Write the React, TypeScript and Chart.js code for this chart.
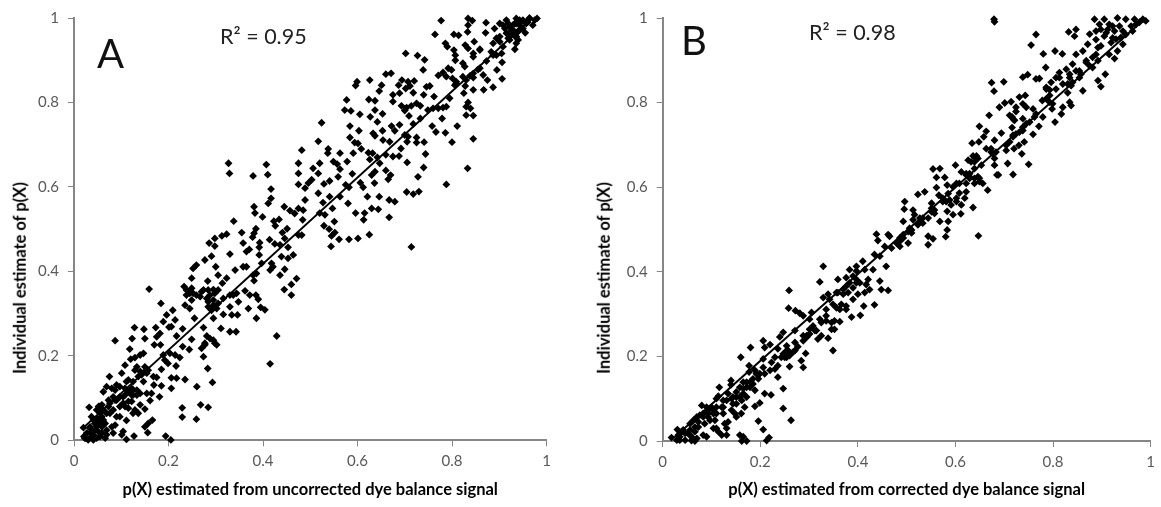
import React, { useEffect, useRef } from "react";
import { Chart, registerables } from "chart.js";

Chart.register(...registerables);

const xTitleA = "p(X) estimated from uncorrected dye balance signal";
const xTitleB = "p(X) estimated from corrected dye balance signal";
const yTitle = "Individual estimate of p(X)";

const trendA = [[0.02, 0.03], [0.97, 1]];
const trendB = [[0.02, 0.005], [0.99, 1]];

const pointsA: number[][] = [
[.327,.656],[.329,.632],[.379,.626],[.407,.653],[.410,.629],[.475,.656],[.475,.632],[.475,.606],[.417,.595],[.417,.573],[.411,.561],[.381,.553],[.383,.538],[.399,.529],[.445,.553],[.457,.544],[.467,.537],[.475,.549],[.338,.519],[.423,.519],[.434,.523],[.426,.508],[.355,.492],[.385,.501],[.381,.490],[.378,.481],[.323,.488],[.313,.484],[.298,.478],[.286,.467],[.298,.460],[.358,.467],[.393,.468],[.392,.457],[.451,.501],[.441,.492],[.446,.478],[.475,.486],[.414,.475],[.425,.465],[.436,.463],[.453,.457],[.371,.452],
[.777,.994],[.834,.999],[.843,.994],[.834,.983],[.833,.967],[.872,.989],[.871,.965],[.764,.961],[.804,.961],[.814,.959],[.786,.940],[.790,.932],[.804,.924],[.807,.912],[.807,.900],[.828,.936],[.834,.928],[.847,.944],[.859,.924],[.845,.908],
[.702,.916],[.727,.911],[.742,.901],[.739,.877],[.660,.867],[.671,.869],[.626,.853],[.599,.849],[.596,.840],[.651,.841],[.646,.827],[.694,.853],[.687,.841],[.707,.849],[.720,.851],[.711,.839],[.702,.833],[.718,.823],[.689,.822],[.675,.818],[.740,.818],[.746,.837],[.753,.839],[.577,.806],[.624,.807],[.637,.804],[.675,.802],[.762,.814],[.771,.864],[.781,.871],[.792,.881],[.799,.877],[.788,.861],[.801,.857],[.809,.849],[.806,.841],[.823,.893],[.827,.885],[.838,.863],[.845,.859],[.830,.853],[.828,.839],[.855,.878],[.866,.865],[.875,.853],[.895,.877],[.906,.895],[.906,.856],[.887,.836],[.867,.830],[.845,.830],[.825,.822],[.795,.810],[.788,.790],[.781,.788],[.771,.786],[.760,.786],[.749,.782],[.733,.792],[.725,.798],[.714,.792],[.704,.788],[.693,.792],[.700,.781],[.709,.768],[.733,.762],[.779,.762],[.834,.800],[.830,.790],[.839,.786],[.830,.770],[.845,.769],[.811,.744],[.758,.744],[.766,.730],[.786,.728],[.800,.706],[.845,.714],[.833,.644],[.788,.606],
[.573,.782],[.586,.780],[.605,.772],[.637,.782],[.627,.766],[.653,.773],[.642,.754],[.584,.744],[.603,.733],[.633,.727],[.653,.733],[.672,.744],[.679,.733],[.689,.747],[.718,.749],[.524,.752],[.584,.717],[.594,.705],[.601,.703],[.637,.721],[.654,.711],[.668,.707],[.700,.723],[.707,.719],[.705,.707],[.725,.717],[.725,.705],[.741,.706],[.517,.708],[.538,.690],[.537,.680],[.563,.680],[.591,.680],[.608,.690],[.623,.681],[.632,.680],[.660,.676],[.692,.691],[.675,.672],[.688,.673],[.744,.678],[.482,.687],[.549,.660],[.557,.654],[.578,.660],[.520,.656],[.506,.644],[.517,.632],[.563,.642],[.559,.624],[.647,.656],[.626,.665],[.642,.670],[.705,.658],[.740,.646],[.660,.639],[.670,.628],[.665,.618],[.637,.636],[.630,.628],[.589,.631],[.606,.610],[.612,.599],[.636,.609],[.728,.624],[.575,.605],[.582,.599],[.563,.577],[.541,.577],[.541,.614],[.529,.607],[.503,.617],[.496,.609],[.489,.597],[.517,.585],[.527,.563],[.580,.561],[.621,.577],[.646,.577],[.667,.569],[.679,.565],[.704,.588],[.718,.583],[.730,.589],[.547,.549],[.630,.549],[.644,.547],[.615,.538],[.596,.538],[.613,.522],[.667,.528],[.551,.518],[.529,.508],[.540,.500],[.552,.492],[.545,.484],[.561,.476],[.582,.476],[.601,.478],[.625,.487],[.544,.459],[.714,.458],[.531,.534],[.520,.538],[.482,.486],[.485,.545],[.484,.522],[.489,.569],
[.901,.987],[.936,.999],[.964,1],[.980,.999],[.943,.983],[.929,.972],[.915,.964],[.901,.956],[.887,.940],[.908,.932],[.933,.926],[.940,.948],[.922,.948],[.957,.987],[.971,.983],[.919,.987],[.890,.975],[.950,.995],[.933,.987],[.940,.968],[.912,.975],[.926,.960],[.946,.975],[.955,.965],[.935,.955],[.925,.970],[.915,.995],[.945,.990],[.960,.990],[.887,.912],[.873,.898],[.859,.881],[.845,.916],[.859,.926],[.883,.920],[.894,.912],[.905,.916],[.823,.861],[.845,.869],[.809,.845],
[.908,.983],[.922,.979],[.936,.987],[.943,.972],[.950,.975],[.929,.964],[.936,.956],[.919,.952],[.901,.944],[.894,.952],[.943,.995],[.961,.995],[.975,.995],[.936,.940],[.929,.983],
[.159,.358],[.184,.324],[.087,.236],[.128,.267],[.123,.241],[.148,.263],[.150,.241],[.173,.267],[.175,.245],[.182,.253],[.170,.226],[.183,.226],[.118,.216],[.147,.206],[.140,.202],[.129,.196],[.120,.192],[.108,.178],[.075,.151],[.189,.202],[.192,.190],[.199,.182],[.216,.176],[.185,.168],[.206,.148],[.217,.147],[.235,.144],[.206,.123],[.185,.129],[.260,.127],[.293,.137],[.283,.170],[.274,.198],[.229,.077],[.268,.084],[.284,.078],[.229,.055],[.259,.050],[.194,.010],[.205,.001],[.166,.048],[.157,.040],[.150,.032],[.156,.018],[.127,.010],[.111,.002],[.104,.021],[.101,.013],[.032,.078],
[.196,.297],[.209,.308],[.189,.281],[.214,.285],[.206,.269],[.201,.268],[.230,.264],[.217,.247],[.249,.239],[.230,.222],[.244,.215],[.224,.196],[.214,.202],[.203,.206],[.249,.384],[.233,.364],[.252,.407],[.259,.415],[.277,.427],[.291,.436],[.330,.441],[.365,.447],[.392,.439],[.300,.411],[.305,.391],[.323,.384],[.314,.372],[.283,.377],[.341,.403],[.358,.411],[.365,.411],[.379,.391],[.381,.378],[.386,.395],[.249,.360],[.252,.348],[.238,.344],[.249,.332],[.235,.320],[.245,.312],[.255,.289],[.274,.267],[.281,.247],[.295,.237],[.302,.226],[.277,.226],[.270,.218],[.295,.289],[.311,.265],[.330,.257],[.343,.257],[.316,.298],[.334,.297],[.346,.297],[.330,.316],[.369,.312],[.386,.289],[.395,.315],[.404,.309],[.348,.328],[.362,.354],[.372,.344],[.385,.344],[.390,.334],[.316,.336],[.330,.344],[.344,.348],[.270,.352],[.284,.356],[.295,.357],[.305,.356],[.267,.340],[.281,.336],[.295,.332],[.284,.316],[.302,.312],[.291,.308],[.429,.247],[.415,.181],[.445,.357],[.460,.344],[.460,.369],[.471,.383],[.415,.403],[.421,.411],[.436,.391],[.446,.405],[.397,.419],[.418,.419],[.439,.435],[.453,.431],[.464,.439],
[.238,.356],[.245,.348],[.259,.344],[.274,.356],[.288,.344],[.298,.348],[.284,.328],[.295,.320],[.305,.324],[.277,.230],[.288,.241],[.298,.230],[.337,.344],
[.133,.174],[.140,.163],[.154,.159],[.150,.174],[.168,.151],[.175,.149],[.169,.131],[.154,.111],[.164,.111],[.181,.103],[.161,.094],[.150,.074],[.140,.084],[.125,.107],[.133,.119],[.111,.139],[.122,.123],[.090,.131],[.080,.123],[.062,.115],[.069,.127],[.101,.159],[.108,.107],[.115,.092],[.125,.064],[.111,.047],[.097,.080],[.083,.072],[.090,.056],[.080,.032],[.062,.048],[.073,.095],[.059,.084],[.048,.072],[.037,.056],[.055,.064],[.069,.064],[.044,.040],[.059,.032],[.034,.032],[.020,.030],[.027,.017],[.021,.009],[.024,.005],[.041,.013],[.052,.020],[.066,.005],[.055,.009],[.030,.001],[.041,.001],[.069,.024],[.083,.017],[.048,.052],[.052,.080],[.087,.095],[.108,.080],[.136,.064],[.097,.103],[.125,.139],[.147,.139],
[.034,.028],[.041,.048],[.048,.032],[.055,.080],[.062,.072],[.066,.040],[.073,.080],[.076,.064],[.059,.056],[.052,.048],[.044,.024],[.037,.009],[.023,.005],[.048,.005],[.059,.017],[.069,.013],[.034,.017],[.055,.040],[.076,.088],[.090,.095],[.104,.103],[.115,.115],[.108,.123],[.122,.107],[.133,.107],[.140,.111],[.136,.151],[.129,.166],[.143,.155],[.150,.163],[.157,.166],[.125,.119],[.115,.143],[.097,.127],[.087,.119],[.083,.103],[.104,.088],[.122,.092],[.115,.076],[.129,.072],[.097,.056],[.087,.036],
];

const pointsB: number[][] = [
[.679,.997],[.680,.991],[.765,.961],[.755,.936],[.832,.967],[.847,.973],[.844,.957],[.875,.962],[.780,.915],[.804,.922],[.819,.915],[.785,.883],[.674,.847],[.699,.849],[.679,.827],[.738,.860],[.748,.866],[.765,.856],[.772,.857],[.907,.867],[.892,.852],[.898,.838],[.861,.828],[.830,.823],[.834,.801],[.837,.793],[.820,.789],[.817,.773],[.804,.754],[.798,.785],[.778,.805],[.731,.813],[.743,.817],[.738,.797],[.701,.799],[.714,.802],[.690,.789],[.724,.789],[.724,.779],[.669,.770],[.711,.770],[.719,.760],[.745,.789],[.759,.785],[.765,.773],[.779,.766],[.762,.766],[.752,.754],[.771,.744],[.759,.725],[.716,.741],[.738,.734],[.649,.744],[.663,.732],[.658,.719],[.648,.707],[.634,.704],[.680,.711],[.694,.728],[.718,.719],[.711,.707],[.704,.687],[.720,.691],[.730,.699],[.741,.707],[.736,.679],[.750,.654],[.707,.656],[.718,.630],[.688,.629],[.680,.652],[.673,.683],[.663,.691],[.646,.668],[.632,.660],[.626,.664],[.639,.644],[.600,.652],[.568,.644],[.554,.643],[.561,.623],[.578,.623],[.583,.605],[.561,.599],[.537,.589],[.523,.583],[.566,.581],[.551,.562],[.496,.566],[.495,.548],[.513,.546],[.516,.535],[.493,.519],[.574,.566],[.588,.570],[.602,.574],[.622,.589],[.619,.574],[.612,.558],[.636,.552],[.611,.537],[.595,.535],[.583,.543],[.568,.519],[.585,.519],[.583,.499],[.580,.483],[.647,.485],[.557,.546],[.544,.527],[.533,.527],[.523,.511],[.506,.503],[.493,.488],[.486,.480],[.465,.484],[.438,.489],[.441,.474],[.455,.460],[.503,.468],[.544,.464],[.554,.478],[.544,.484],[.649,.621],[.639,.609],[.666,.593],[.656,.609],[.622,.629],[.612,.636],[.608,.609],[.595,.601],[.585,.585],
[.786,.832],[.796,.848],[.806,.859],[.813,.871],[.827,.879],[.840,.891],[.854,.875],[.868,.895],[.881,.883],[.834,.859],[.820,.844],[.840,.848],[.854,.859],[.806,.832],[.793,.817],[.847,.914],[.861,.922],[.871,.938],[.888,.949],[.892,.930],[.881,.907],[.892,.899],[.915,.914],[.926,.904],[.932,.922],[.943,.938],[.919,.942],[.905,.957],[.888,.969],[.885,.997],[.895,.985],[.905,.997],[.912,.973],[.922,.953],[.932,1],[.936,.981],[.949,.997],[.949,.961],[.967,.997],[.984,.997],[.990,.993],[.960,.981],[.970,.985],[.943,.969],[.963,.969],[.926,.969],[.915,.985],[.977,.990],
[.731,.730],[.704,.699],[.683,.683],[.653,.652],[.629,.621],[.602,.609],[.574,.574],[.551,.542],[.527,.519],[.510,.499],[.486,.472],
[.622,.632],[.629,.625],[.639,.621],[.646,.625],[.649,.613],[.643,.668],[.639,.660],[.636,.674],[.643,.674],[.673,.691],[.677,.679],[.680,.668],[.685,.629],[.718,.723],[.724,.726],[.716,.766],[.721,.758],[.738,.742],[.745,.750],[.738,.762],[.786,.809],[.793,.801],[.799,.797],[.786,.836],[.793,.830],[.813,.859],[.834,.867],[.830,.844],[.837,.840],[.847,.875],[.857,.867],[.868,.899],[.875,.887],[.888,.914],[.898,.934],[.909,.965],[.898,.973],[.922,.981],[.929,.950],[.939,.954],[.551,.550],[.557,.538],[.581,.566],[.591,.558],[.602,.566],[.608,.586],[.622,.609],[.629,.632],[.513,.523],[.527,.527],[.533,.515],[.503,.495],[.510,.492],[.493,.480],[.479,.468],[.462,.488],[.469,.456],[.486,.460],
[.329,.413],[.322,.376],[.359,.382],[.259,.356],[.258,.314],[.272,.308],[.281,.302],[.288,.296],[.305,.304],[.301,.288],[.271,.261],[.247,.257],[.240,.246],[.206,.237],[.220,.228],[.209,.221],[.180,.221],[.160,.198],[.236,.218],[.254,.225],[.247,.206],[.257,.214],[.267,.210],[.277,.223],[.293,.207],[.284,.190],[.288,.174],[.260,.176],[.349,.214],[.339,.243],[.325,.249],[.315,.261],[.295,.249],[.288,.237],[.301,.264],[.352,.264],[.346,.264],[.363,.282],[.335,.284],[.325,.280],[.352,.284],[.387,.293],[.405,.297],[.412,.319],[.434,.322],[.390,.335],[.376,.319],[.363,.311],[.349,.323],[.335,.311],[.329,.339],[.339,.347],[.356,.351],[.376,.366],[.390,.362],[.417,.370],[.414,.351],[.400,.347],[.424,.358],[.445,.378],[.448,.358],[.462,.356],[.383,.405],[.397,.413],[.410,.425],[.434,.441],[.445,.437],[.458,.413],[.376,.386],[.397,.382],[.431,.405],
[.247,.124],[.209,.112],[.222,.109],[.247,.077],[.263,.049],[.199,.090],[.189,.082],[.196,.047],[.206,.027],[.218,.008],[.213,.001],[.172,0],[.165,.010],[.158,.014],[.162,0],[.236,.151],[.230,.170],[.220,.167],[.209,.159],[.196,.147],[.185,.135],[.177,.178],[.177,.163],[.206,.194],[.223,.186],[.236,.178],[.189,.120],[.172,.127],[.165,.139],[.140,.143],[.140,.133],[.116,.127],[.151,.116],[.134,.112],[.114,.106],[.110,.100],[.144,.088],[.131,.096],[.168,.080],[.161,.065],[.151,.057],[.134,.045],[.131,.030],[.131,.014],[.121,.014],[.114,.022],[.104,.030],[.090,.010],[.083,.014],[.080,.084],[.090,.069],[.100,.080],[.110,.065],[.124,.065],[.070,.057],[.083,.057],[.056,.041],[.042,.026],[.030,.027],[.018,.008],[.029,.002],[.035,.010],[.046,.002],[.059,.001],[.070,.006],[.066,.022],[.052,.018],[.073,.033],[.086,.041],[.097,.049],[.063,.049],[.107,.049],[.124,.080],[.158,.104],[.165,.112],[.179,.127],[.199,.159],[.243,.198],[.254,.198],[.271,.233],[.308,.272],[.322,.288],[.370,.347],[.397,.374],[.090,.080],[.076,.061],[.056,.026],[.093,.057],[.104,.065],[.141,.073],[.144,.104],
[.397,.402],[.414,.405],[.421,.382],[.404,.374],[.383,.374],[.390,.390],[.370,.359],[.380,.351],[.359,.351],[.366,.323],[.376,.311],[.356,.315],[.342,.335],[.335,.296],[.346,.280],[.301,.253],[.312,.261],[.318,.241],[.295,.245],[.288,.249],[.271,.214],[.260,.202],[.250,.198],[.254,.214],[.230,.198],[.206,.174],[.192,.159],[.185,.147],[.179,.139],[.189,.167],[.172,.139],[.165,.124],[.158,.127],[.151,.104],[.141,.100],[.124,.096],[.121,.080],[.110,.080],[.104,.073],[.093,.065],[.083,.065],[.073,.045],[.066,.033],[.056,.014],[.046,.018],[.039,.022],[.032,.014],[.059,.010],[.066,0],[.035,.002],[.151,.088],[.148,.065],[.162,.096],[.172,.104],[.110,.030],[.127,.041],[.097,.077],
];

const tickStyle = { color: "#595959", font: { family: "Lato", size: 15 } };
const formatTick = (v: number | string) => String(Math.round(Number(v) * 10) / 10);

function Panel(props: {
  left: number; width: number; axisW: number; axisH: number; padTop: number; padRight: number;
  points: number[][]; trend: number[][]; xTitle: string;
}) {
  const ref = useRef<HTMLCanvasElement>(null);
  useEffect(() => {
    const common = {
      type: "linear",
      min: 0,
      max: 1,
      border: { color: "#868686", width: 2 },
      grid: { drawOnChartArea: false, drawTicks: true, tickLength: 6, color: "#868686", lineWidth: 1 },
    };
    const chart = new Chart(ref.current!, {
      type: "scatter",
      data: {
        datasets: [
          {
            data: props.points.map(([x, y]) => ({ x, y })),
            pointStyle: "rectRot",
            pointRadius: 3.9,
            backgroundColor: "#000",
            borderColor: "#000",
            borderWidth: 0,
            clip: false,
          },
          {
            data: props.trend.map(([x, y]) => ({ x, y })),
            showLine: true,
            pointRadius: 0,
            borderColor: "#000",
            borderWidth: 2,
          },
        ],
      } as any,
      options: {
        responsive: false,
        animation: false,
        layout: { padding: { top: props.padTop, right: props.padRight, left: 0, bottom: 0 } },
        plugins: { legend: { display: false }, tooltip: { enabled: false } },
        scales: {
          x: {
            ...common,
            ticks: { ...tickStyle, stepSize: 0.2, padding: 6, maxRotation: 0, callback: formatTick },
            title: {
              display: true,
              text: props.xTitle,
              color: "#000",
              font: { family: "Lato", size: 16.5, weight: "bold", lineHeight: 1.2 },
              padding: { top: 0, bottom: 7 },
            },
            afterFit: (s: any) => { s.height = props.axisH; },
          },
          y: {
            ...common,
            ticks: { ...tickStyle, stepSize: 0.2, padding: 9, callback: formatTick },
            afterFit: (s: any) => { s.width = props.axisW; },
          },
        },
      } as any,
    });
    return () => chart.destroy();
  }, []);
  return (
    <canvas
      ref={ref}
      width={props.width}
      height={507}
      style={{ position: "absolute", left: props.left, top: 0, width: props.width, height: 507, display: "block" }}
    />
  );
}

const textBase: React.CSSProperties = { position: "absolute", fontFamily: "Lato", whiteSpace: "nowrap", lineHeight: 1, color: "#000" };

function RotatedTitle({ centerX, centerY }: { centerX: number; centerY: number }) {
  return (
    <div style={{ ...textBase, left: centerX, top: centerY, fontSize: 16.5, fontWeight: 700, transform: "translate(-50%,-50%) rotate(-90deg)" }}>
      {yTitle}
    </div>
  );
}

export default function App() {
  return (
    <div style={{ position: "absolute", left: 0, top: 0, width: 1161, height: 507, overflow: "hidden", background: "#fff" }}>
      <Panel left={0} width={580} axisW={74} axisH={66.7} padTop={18} padRight={33.5} points={pointsA} trend={trendA} xTitle={xTitleA} />
      <Panel left={590} width={571} axisW={72.7} axisH={66} padTop={15.2} padRight={10} points={pointsB} trend={trendB} xTitle={xTitleB} />
      <RotatedTitle centerX={20} centerY={278} />
      <RotatedTitle centerX={604} centerY={278} />
      <div style={{ ...textBase, left: 97, top: 33, fontSize: 40, color: "#111" }}>A</div>
      <div style={{ ...textBase, left: 681, top: 20, fontSize: 40, color: "#111" }}>B</div>
      <div style={{ ...textBase, left: 220, top: 26, fontSize: 21.5, color: "#222" }}>R² = 0.95</div>
      <div style={{ ...textBase, left: 809, top: 22, fontSize: 21.5, color: "#222" }}>R² = 0.98</div>
    </div>
  );
}
